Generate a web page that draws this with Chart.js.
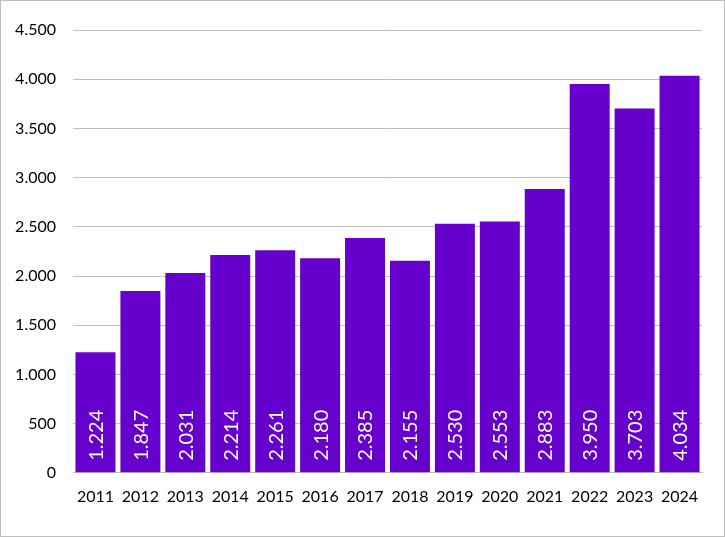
<!DOCTYPE html>
<html>
<head>
<meta charset="utf-8">
<script src="https://cdn.jsdelivr.net/npm/chart.js@4"></script>
<style>
html,body{margin:0;padding:0;background:#fff;}
#wrap{position:relative;width:725px;height:537px;box-sizing:border-box;border:1px solid #bfbfbf;}
canvas{display:block;}
</style>
</head>
<body>
<div id="wrap"><canvas id="c" width="723" height="535"></canvas></div>
<script>
const years = ['2011','2012','2013','2014','2015','2016','2017','2018','2019','2020','2021','2022','2023','2024'];
const values = [1224,1847,2031,2214,2261,2180,2385,2155,2530,2553,2883,3950,3703,4034];
const yMin = 0, yMax = 4500, yStep = 500;

function fmt(v){ return String(Math.round(v)).replace(/\B(?=(\d{3})+(?!\d))/g,'.'); }

const labelPlugin = {
  id:'barLabels',
  afterDatasetsDraw(chart){
    const ctx = chart.ctx;
    const meta = chart.getDatasetMeta(0);
    const base = chart.scales.y.getPixelForValue(0);
    ctx.save();
    ctx.fillStyle = '#ffffff';
    ctx.font = '20px Lato';
    ctx.textAlign = 'left';
    ctx.textBaseline = 'middle';
    meta.data.forEach((bar,i)=>{
      ctx.save();
      ctx.translate(bar.x+1, base-12);
      ctx.rotate(-Math.PI/2);
      ctx.fillText(fmt(values[i]),0,0);
      ctx.restore();
    });
    ctx.restore();
  }
};

new Chart(document.getElementById('c'),{
  type:'bar',
  data:{labels:years,datasets:[{data:values,backgroundColor:'#6600CC',borderWidth:0,barPercentage:0.89,categoryPercentage:1}]},
  options:{
    responsive:false,animation:false,
    layout:{padding:{top:29,right:22,bottom:16,left:0}},
    plugins:{legend:{display:false},tooltip:{enabled:false}},
    scales:{
      x:{
        grid:{display:false,drawTicks:false},
        border:{color:'#bfbfbf',width:1},
        ticks:{color:'#000',font:{family:'Lato',size:16},padding:14,maxRotation:0,autoSkip:false}
      },
      y:{
        min:yMin,max:yMax,
        afterFit(s){s.width=72;},
        grid:{color:'#bfbfbf',drawTicks:false},
        border:{display:false},
        ticks:{stepSize:yStep,color:'#000',font:{family:'Lato',size:16},padding:17,callback:v=>fmt(v)}
      }
    }
  },
  plugins:[labelPlugin]
});
</script>
</body>
</html>
